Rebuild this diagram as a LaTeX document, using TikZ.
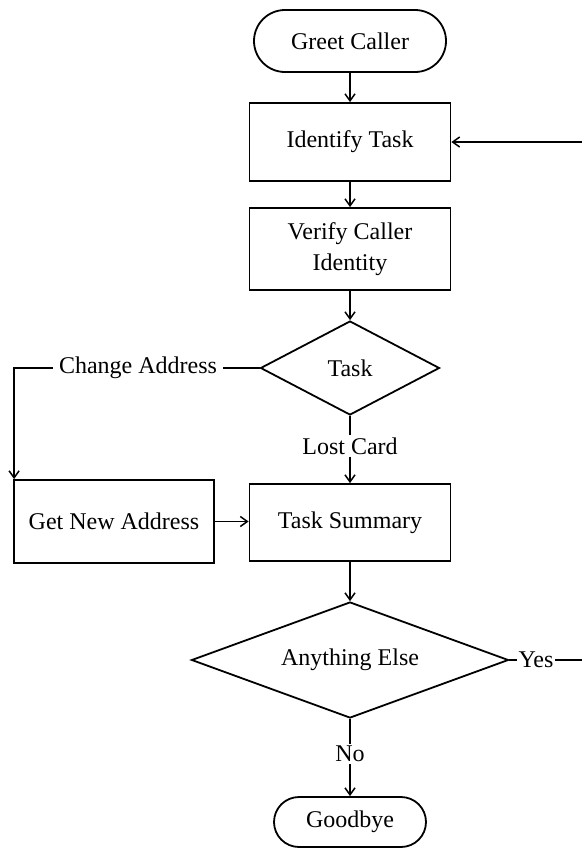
\documentclass[tikz,border=0pt]{standalone}
\usepackage{fontspec}
\setmainfont{Liberation Serif}
\usetikzlibrary{shapes.geometric,shapes.misc,arrows.meta}
\begin{document}
\begin{tikzpicture}[x=1pt,y=-1pt,
  every node/.style={font=\fontsize{24}{27}\selectfont},
  conn/.style={line width=1.8pt},
  arr/.style={conn,-{Straight Barb[length=7pt,width=10pt,line width=1.5pt]}},
  procbox/.style={draw,line width=1.8pt,rectangle,inner sep=0pt,align=center},
  term/.style={draw,line width=1.8pt,rounded rectangle,inner sep=0pt},
  decide/.style={draw,line width=1.8pt,diamond,inner sep=0pt},
  lbl/.style={inner sep=2pt}]
\useasboundingbox (0,0) rectangle (582,849);
\node[term,minimum width=192pt,minimum height=62pt] (greet) at (350,41) {Greet Caller};
\node[procbox,minimum width=201pt,minimum height=78pt] (ident) at (350,142) {Identify Task};
\node[procbox,minimum width=201pt,minimum height=82pt] (verify) at (350,249) {Verify Caller\\[4pt]Identity};
\node[decide,aspect=1.9,minimum width=179pt,minimum height=94pt] (task) at (350,368) {Task};
\node[lbl,inner sep=6pt] (ca) at (138,368) {Change Address};
\node[lbl] (lc) at (350,446) {Lost Card};
\node[procbox,minimum width=200pt,minimum height=83pt] (gna) at (114,521.5) {Get New Address};
\node[procbox,minimum width=201pt,minimum height=77pt] (ts) at (350,522.5) {Task Summary};
\node[decide,aspect=2.73,minimum width=317pt,minimum height=116pt] (any) at (350,660) {Anything Else};
\node[lbl,inner sep=1.5pt] (yes) at (536,660) {Yes};
\node[lbl] (no) at (350,754) {No};
\node[term,minimum width=152pt,minimum height=50pt] (bye) at (350,822) {Goodbye};
\coordinate (rin) at (582,142);
\coordinate (yesend) at (582,660);
\coordinate (gnatop) at ([xshift=1pt]gna.north west);

\draw[arr] (greet) -- (ident);
\draw[arr] (rin) -- (ident.east);
\draw[arr] (ident) -- (verify);
\draw[arr] (verify) -- (task);
\draw[conn] (task.west) -- (ca.east);
\draw[arr] (ca.west) -| (gnatop);
\draw[conn] (task.south) -- (lc.north);
\draw[arr] (lc.south) -- (ts.north);
\draw[arr] (gna.east) -- (ts.west |- gna.east);
\draw[arr] (ts) -- (any);
\draw[conn] (any.east) -- (yes.west);
\draw[conn] (yes.east) -- (yesend);
\draw[conn] (any.south) -- (no.north);
\draw[arr] (no.south) -- (bye.north);
\end{tikzpicture}
\end{document}
